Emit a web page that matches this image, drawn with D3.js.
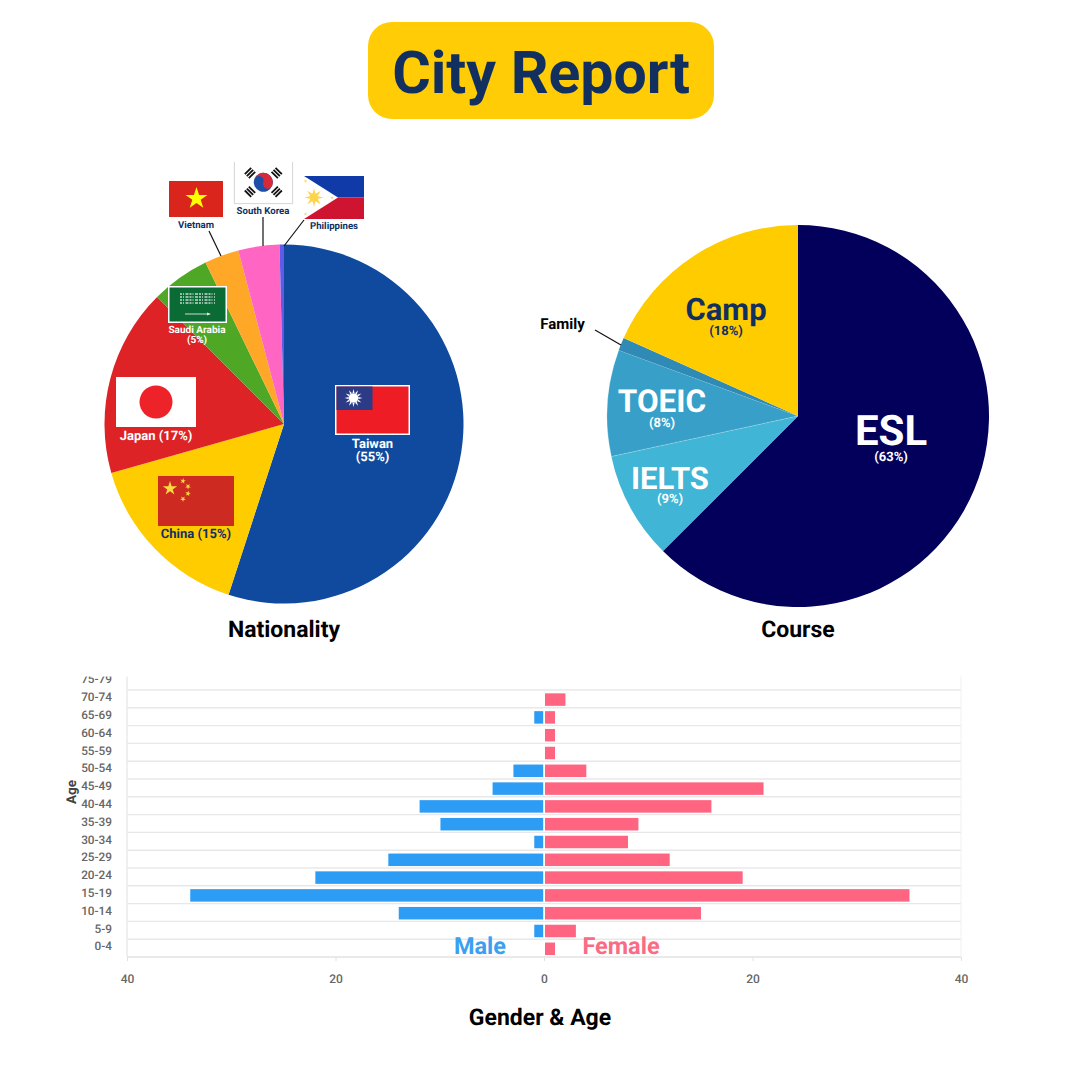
<!DOCTYPE html>
<html>
<head>
<meta charset="utf-8">
<title>City Report</title>
<script src="https://cdn.jsdelivr.net/npm/d3@7"></script>
<style>
  html, body { margin: 0; padding: 0; background: #fff; }
  svg { display: block; font-family: Roboto, sans-serif; text-rendering: geometricPrecision; }
  .axis path { display: none; }
</style>
</head>
<body>
<div id="chart"></div>
<script>
// nationality pie
const nationalities = ['Taiwan', 'China', 'Japan', 'Saudi Arabia', 'Vietnam', 'South Korea', 'Philippines'];
const nationalityValues = [55, 15.6, 16.9, 5.3, 3.1, 3.7, 0.4];
const nationalityColors = ['#0f4a9e', '#ffcc00', '#de2326', '#4fa825', '#ffa726', '#ff66c4', '#5e5ce6'];

// course pie
const courses = ['ESL', 'IELTS', 'TOEIC', 'Family', 'Camp'];
const courseValues = [62.5, 9.1, 9, 1.1, 18.3];
const courseColors = ['#02005a', '#40b5d5', '#379fc8', '#2f8ab5', '#ffcc00'];

// gender & age pyramid, top row first
const ageGroups = ['75-79', '70-74', '65-69', '60-64', '55-59', '50-54', '45-49', '40-44', '35-39', '30-34', '25-29', '20-24', '15-19', '10-14', '5-9', '0-4'];
const maleCounts = [0, 0, 1, 0, 0, 3, 5, 12, 10, 1, 15, 22, 34, 14, 1, 0];
const femaleCounts = [0, 2, 1, 1, 1, 4, 21, 16, 9, 8, 12, 19, 35, 15, 3, 1];
const countTicks = [-40, -20, 0, 20, 40];

const navy = '#12305f';
const svg = d3.select('#chart').append('svg').attr('width', 1080).attr('height', 1080);

function label(x, y, str, size, color, weight) {
  return svg.append('text')
    .attr('x', x).attr('y', y)
    .attr('text-anchor', 'middle')
    .attr('font-size', size)
    .attr('font-weight', weight || 700)
    .attr('fill', color)
    .text(str);
}

function leader(x1, y1, x2, y2) {
  svg.append('line')
    .attr('x1', x1).attr('y1', y1).attr('x2', x2).attr('y2', y2)
    .attr('stroke', '#111').attr('stroke-width', 1.2);
}

function drawPie(cx, cy, r, values, colors, outlined) {
  const pie = d3.pie().sort(null).value(d => d);
  const arc = d3.arc().innerRadius(0).outerRadius(r);
  svg.append('g')
    .attr('transform', `translate(${cx},${cy})`)
    .selectAll('path')
    .data(pie(values))
    .join('path')
    .attr('d', arc)
    .attr('fill', (d, i) => colors[i])
    .attr('stroke', (d, i) => i === outlined ? 'rgba(255,255,255,0.5)' : 'none')
    .attr('stroke-width', 0.5);
}

// five point star centred on 0,0
function star(r) {
  const pts = [];
  for (let i = 0; i < 10; i++) {
    const rad = i % 2 ? r * 0.382 : r;
    const a = -Math.PI / 2 + i * Math.PI / 5;
    pts.push([rad * Math.cos(a), rad * Math.sin(a)]);
  }
  return 'M' + pts.join('L') + 'Z';
}

function flagGroup(x, y) {
  return svg.append('g').attr('transform', `translate(${x},${y})`);
}

function rect(g, x, y, w, h, fill) {
  return g.append('rect').attr('x', x).attr('y', y).attr('width', w).attr('height', h).attr('fill', fill);
}

function sunRays(g, cx, cy, n, r1, r2, color, spread) {
  for (let i = 0; i < n; i++) {
    const a = i * 2 * Math.PI / n;
    const s = spread;
    g.append('path')
      .attr('d', `M${cx + r1 * Math.cos(a - s)},${cy + r1 * Math.sin(a - s)}L${cx + r2 * Math.cos(a)},${cy + r2 * Math.sin(a)}L${cx + r1 * Math.cos(a + s)},${cy + r1 * Math.sin(a + s)}Z`)
      .attr('fill', color);
  }
}

function drawTaiwan(x, y) {
  const g = flagGroup(x, y);
  rect(g, 0, 0, 75, 50, '#fff');
  rect(g, 1.5, 1.5, 72, 47, '#ee1c25');
  rect(g, 1.5, 1.5, 36, 23.5, '#2b3b86');
  sunRays(g, 18.5, 13, 12, 5, 9, '#fff', 0.2);
  g.append('circle').attr('cx', 18.5).attr('cy', 13).attr('r', 4.8).attr('fill', '#fff');
}

function drawJapan(x, y) {
  const g = flagGroup(x, y);
  rect(g, 0, 0, 80, 50, '#fff');
  g.append('circle').attr('cx', 40).attr('cy', 25).attr('r', 16.5).attr('fill', '#ee2229');
}

function drawChina(x, y) {
  const g = flagGroup(x, y);
  rect(g, 0, 0, 76, 50, '#cd2a22');
  g.append('path').attr('d', star(7.5)).attr('transform', 'translate(12,12.5)').attr('fill', '#fcd93f');
  [[25, 5, 10], [30, 10.5, 35], [30, 17.5, 10], [25, 23, 35]].forEach(s => {
    g.append('path').attr('d', star(3)).attr('transform', `translate(${s[0]},${s[1]}) rotate(${s[2]})`).attr('fill', '#fcd93f');
  });
}

function drawSaudi(x, y) {
  const g = flagGroup(x, y);
  rect(g, 0, 0, 59, 37, '#fff');
  rect(g, 1.5, 1.5, 56, 34, '#0b6b35');
  // script band, drawn as fine white strokes
  [8, 11, 14, 17].forEach(ly => {
    g.append('line')
      .attr('x1', 12).attr('x2', 47).attr('y1', ly).attr('y2', ly)
      .attr('stroke', '#fff').attr('stroke-width', 1.7)
      .attr('stroke-dasharray', '2 1 1 1.5 3 1').attr('opacity', 0.75);
  });
  g.append('line').attr('x1', 17).attr('x2', 41).attr('y1', 28).attr('y2', 28).attr('stroke', '#dfe9e2').attr('stroke-width', 0.9);
  g.append('path').attr('d', 'M39,26.6L43,28L39,29.4Z').attr('fill', '#dfe9e2');
}

function drawVietnam(x, y) {
  const g = flagGroup(x, y);
  rect(g, 0, 0, 54, 36, '#da251d');
  g.append('path').attr('d', star(11.5)).attr('transform', 'translate(27.5,17.5)').attr('fill', '#ffff00');
}

function trigram(g, cx, cy, rot) {
  const t = g.append('g').attr('transform', `translate(${cx},${cy}) rotate(${rot})`);
  [-2.8, 0, 2.8].forEach(o => rect(t, -4.5, o - 0.9, 9, 1.8, '#111'));
}

function drawKorea(x, y) {
  const g = flagGroup(x, y);
  rect(g, 0, 0, 59, 42, '#fff');
  // frame on three sides, the top edge is cut off in the picture
  g.append('path').attr('d', 'M0.4,0V41.6H58.6V0').attr('fill', 'none').attr('stroke', '#c9c9c9').attr('stroke-width', 0.8);
  g.append('g').attr('transform', 'translate(29.3,20.3) rotate(20)').call(t => {
    t.append('circle').attr('r', 9.5).attr('fill', '#1d4fa8');
    t.append('path').attr('d', 'M-9.5,0A9.5,9.5 0 0 1 9.5,0A4.75,4.75 0 0 1 0,0A4.75,4.75 0 0 0 -9.5,0Z').attr('fill', '#d9283a');
  });
  trigram(g, 16, 11, -45);
  trigram(g, 42.7, 11, 45);
  trigram(g, 16, 29.7, 45);
  trigram(g, 42.7, 29.7, -45);
}

function drawPhilippines(x, y) {
  const g = flagGroup(x, y);
  rect(g, 0, 0, 60, 21.5, '#0f3aa8');
  rect(g, 0, 21.5, 60, 21.5, '#ce1430');
  g.append('path').attr('d', 'M0,0L34,21.5L0,43Z').attr('fill', '#fff');
  sunRays(g, 10, 21.5, 8, 4.5, 9.5, '#fdd44c', 0.3);
  g.append('circle').attr('cx', 10).attr('cy', 21.5).attr('r', 4.6).attr('fill', '#fdd44c');
  [[1.5, 5], [28, 21.5], [1.5, 38]].forEach(s => {
    g.append('path').attr('d', star(1.8)).attr('transform', `translate(${s[0]},${s[1]})`).attr('fill', '#fdd44c');
  });
}

// title
svg.append('rect')
  .attr('x', 368).attr('y', 22).attr('width', 346).attr('height', 97).attr('rx', 24)
  .attr('fill', '#ffcc05');
label(541, 93, 'City Report', 59, navy, 700);

// nationality
drawPie(284, 424, 179.5, nationalityValues, nationalityColors);
leader(209, 231, 221, 256);
leader(263, 217, 263, 246);
leader(304, 220, 284, 246);

drawTaiwan(335, 385);
label(372.5, 448, 'Taiwan', 13, '#fff');
label(372.5, 461, '(55%)', 13, '#fff');
drawJapan(116, 377);
label(156, 440, 'Japan (17%)', 13, '#fff');
drawChina(158, 476);
label(196, 538, 'China (15%)', 13, navy);
drawSaudi(168, 286);
label(197, 333, 'Saudi Arabia', 10, '#fff');
label(197, 343, '(5%)', 10, '#fff');
drawVietnam(169, 181);
label(196, 228, 'Vietnam', 9.6, navy);
drawKorea(234, 162);
label(263, 214, 'South Korea', 9.6, navy);
drawPhilippines(304, 176);
label(334, 229, 'Philippines', 9.6, navy);
label(284, 637, 'Nationality', 23, '#000');

// course
drawPie(798, 416, 191, courseValues, courseColors, 2);
leader(595, 330, 621, 345);
label(891, 445, 'ESL', 42, '#fff');
label(891, 461, '(63%)', 13, '#fff');
label(726, 320, 'Camp', 31, navy);
label(726, 335, '(18%)', 13, navy);
label(662, 412, 'TOEIC', 31.5, '#fff');
label(662, 427, '(8%)', 13, '#fff');
label(670, 489, 'IELTS', 31, '#fff');
label(670, 503, '(9%)', 13, '#fff');
label(562.5, 329, 'Family', 15, '#000');
label(798, 637, 'Course', 23, '#000');

// gender & age
const x = d3.scaleLinear().domain([-40, 40]).range([127, 961]);
const y = d3.scaleBand().domain(ageGroups).range([672.2, 957]);

svg.append('clipPath').attr('id', 'plot-clip')
  .append('rect').attr('x', 60).attr('y', 676.5).attr('width', 920).attr('height', 320);
const plot = svg.append('g').attr('clip-path', 'url(#plot-clip)');

plot.append('g')
  .selectAll('line')
  .data(ageGroups.slice(1))
  .join('line')
  .attr('x1', x(-40)).attr('x2', x(40))
  .attr('y1', d => y(d)).attr('y2', d => y(d))
  .attr('stroke', '#e8e8e8').attr('stroke-width', 1.4);
plot.append('line')
  .attr('x1', x(-40)).attr('x2', x(40)).attr('y1', 957).attr('y2', 957)
  .attr('stroke', '#e2e2e2').attr('stroke-width', 1.4);
plot.append('line')
  .attr('x1', x(-40)).attr('x2', x(-40)).attr('y1', 675).attr('y2', 957)
  .attr('stroke', '#e8e8e8').attr('stroke-width', 1.4);
plot.append('line')
  .attr('x1', x(40)).attr('x2', x(40)).attr('y1', 675).attr('y2', 957)
  .attr('stroke', '#f0f0f0').attr('stroke-width', 1);

const barH = 12.5;
const barTop = i => y(ageGroups[i]) + (y.bandwidth() - barH) / 2 + 0.7;
plot.append('g')
  .selectAll('rect')
  .data(maleCounts)
  .join('rect')
  .attr('x', d => x(-d) + 0.7)
  .attr('y', (d, i) => barTop(i))
  .attr('width', d => Math.max(0, x(d) - x(0) - 1.5))
  .attr('height', barH)
  .attr('fill', '#2c9cf5');
plot.append('g')
  .selectAll('rect')
  .data(femaleCounts)
  .join('rect')
  .attr('x', x(0) + 1)
  .attr('y', (d, i) => barTop(i))
  .attr('width', d => Math.max(0, x(d) - x(0) - 0.4))
  .attr('height', barH)
  .attr('fill', '#ff6480');

const yAxis = plot.append('g')
  .attr('class', 'axis')
  .attr('transform', `translate(${x(-40)},-1.5)`)
  .call(d3.axisLeft(y).tickSize(0).tickPadding(15));
yAxis.selectAll('text')
  .attr('font-family', 'Roboto, sans-serif')
  .attr('font-size', 11.8)
  .attr('font-weight', 500)
  .attr('fill', '#666');

const xAxis = svg.append('g')
  .attr('class', 'axis')
  .attr('transform', 'translate(0,957)')
  .call(d3.axisBottom(x).tickValues(countTicks).tickSize(4).tickPadding(13).tickFormat(d => Math.abs(d)));
xAxis.selectAll('line').attr('stroke', '#e2e2e2');
xAxis.selectAll('text')
  .attr('font-family', 'Roboto, sans-serif')
  .attr('font-size', 12)
  .attr('font-weight', 500)
  .attr('fill', '#666');

svg.append('text')
  .attr('transform', 'translate(75.5,792) rotate(-90)')
  .attr('text-anchor', 'middle')
  .attr('font-size', 13.5)
  .attr('font-weight', 700)
  .attr('fill', '#444')
  .text('Age');

label(480, 954, 'Male', 23.5, '#3ba0ef');
label(621, 954, 'Female', 23.5, '#f96c84');
label(540, 1025, 'Gender & Age', 23, '#000');
</script>
</body>
</html>
